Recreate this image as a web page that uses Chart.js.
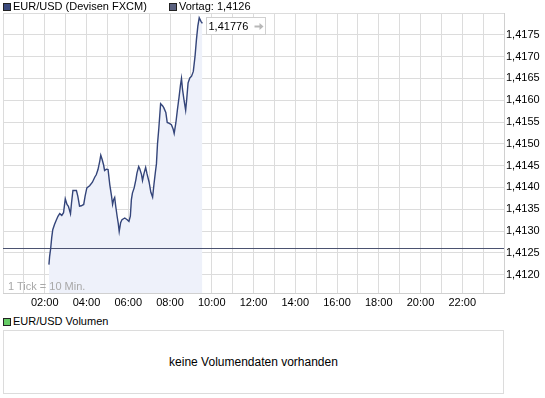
<!DOCTYPE html>
<html>
<head>
<meta charset="utf-8">
<script src="https://cdn.jsdelivr.net/npm/chart.js@4"></script>
<style>
  body { margin: 0; background: #fff; font-family: "Liberation Sans", Arial, sans-serif; font-size: 11px; color: #000; }
  #wrap { position: relative; width: 545px; height: 398px; overflow: hidden; }
  #grafico { position: absolute; left: 0; top: 0; }
  .txt { position: absolute; line-height: 13px; white-space: nowrap; }
  .sq { position: absolute; width: 6px; height: 6px; border: 1px solid #222; }
  #volbox { position: absolute; left: 3px; top: 330px; width: 499px; height: 62px; border: 1px solid #dcdcdc; }
  #volbox span { position: absolute; left: 0; right: 0; top: 24px; text-align: center; font-size: 12px; line-height: 14px; }
</style>
</head>
<body>
<div id="wrap">
  <canvas id="grafico" width="545" height="312"></canvas>

  <div class="sq" style="left:3px;top:3px;background:#3b4a7d"></div>
  <div class="txt" style="left:13px;top:0px">EUR/USD (Devisen FXCM)</div>
  <div class="sq" style="left:169px;top:3px;background:#5b6280"></div>
  <div class="txt" style="left:179px;top:0px">Vortag: 1,4126</div>

  <div class="txt" style="left:8px;top:280px;color:#a8a8a8">1 Tick = 10 Min.</div>

  <div class="sq" style="left:3px;top:318px;background:#66cc66"></div>
  <div class="txt" style="left:13px;top:315px">EUR/USD Volumen</div>
  <div id="volbox"><span>keine Volumendaten vorhanden</span></div>
</div>

<script>
// Zeit in Minuten ab 00:00
const zeiten = [132,134,137,140,143,148,153,158,163,169,
  174,179,184,188,194,197,201,211,215,220,
  225,232,236,241,249,257,264,268,273,278,
  281,285,289,292,297,302,307,312,315,318,
  321,324,328,331,334,338,342,350,357,362,
  366,369,372,377,382,385,390,393,398,401,
  405,410,414,420,425,430,434,438,441,444,
  448,453,459,462,468,472,478,484,489,492,
  497,501,506,510,513,516,520,525,528,532,
  537,542,547,552,556,560,564,569,573];

const kurse = [1.41223,1.41242,1.41260,1.41285,1.41303,1.41315,1.41325,1.41334,1.41340,1.41336,
  1.41342,1.41374,1.41361,1.41357,1.41340,1.41365,1.41393,1.41393,1.41380,1.41357,
  1.41358,1.41361,1.41380,1.41399,1.41404,1.41412,1.41424,1.41429,1.41441,1.41460,
  1.41474,1.41464,1.41452,1.41439,1.41442,1.41441,1.41406,1.41380,1.41361,1.41372,
  1.41377,1.41357,1.41334,1.41319,1.41299,1.41319,1.41326,1.41330,1.41326,1.41322,
  1.41334,1.41372,1.41387,1.41399,1.41418,1.41433,1.41448,1.41443,1.41430,1.41416,
  1.41431,1.41446,1.41431,1.41412,1.41389,1.41378,1.41408,1.41435,1.41454,1.41499,
  1.41537,1.41592,1.41587,1.41583,1.41572,1.41549,1.41547,1.41544,1.41534,1.41524,
  1.41549,1.41576,1.41607,1.41634,1.41650,1.41625,1.41602,1.41577,1.41602,1.41640,
  1.41651,1.41655,1.41666,1.41701,1.41739,1.41770,1.41789,1.41781,1.41776];

const vortag = 1.4126;
const stundenLabels = ["02:00","04:00","06:00","08:00","10:00","12:00","14:00","16:00","18:00","20:00","22:00"];

const punkte = zeiten.map((t, i) => ({ x: t, y: kurse[i] }));

// Box mit letztem Kurs
const letzterKurs = {
  id: 'letzterKurs',
  afterDatasetsDraw(chart) {
    const meta = chart.getDatasetMeta(0);
    const p = meta.data[meta.data.length - 1];
    const ctx = chart.ctx;
    const x = Math.round(p.x) + 4.5, y = Math.round(p.y) - 5.5;
    ctx.save();
    ctx.fillStyle = '#fff';
    ctx.strokeStyle = '#d0d0d0';
    ctx.lineWidth = 1;
    ctx.fillRect(x, y, 59, 17);
    ctx.strokeRect(x, y, 59, 17);
    ctx.font = '11px "Liberation Sans", Arial, sans-serif';
    ctx.textBaseline = 'middle';
    ctx.fillStyle = '#000';
    const txt = kurse[kurse.length - 1].toFixed(5).replace('.', ',');
    ctx.fillText(txt, x + 2, y + 9);
    // kleiner grauer Pfeil
    ctx.strokeStyle = '#b8b8b8';
    ctx.fillStyle = '#b8b8b8';
    ctx.lineWidth = 2;
    ctx.beginPath();
    ctx.moveTo(x + 48, y + 9);
    ctx.lineTo(x + 54, y + 9);
    ctx.stroke();
    ctx.beginPath();
    ctx.moveTo(x + 53, y + 5.5);
    ctx.lineTo(x + 57, y + 9);
    ctx.lineTo(x + 53, y + 12.5);
    ctx.closePath();
    ctx.fill();
    ctx.restore();
  }
};

const ctx = document.getElementById("grafico").getContext("2d");
new Chart(ctx, {
  type: 'line',
  data: {
    datasets: [
      {
        label: 'EUR/USD (Devisen FXCM)',
        data: punkte,
        borderColor: '#34457a',
        borderWidth: 1.4,
        backgroundColor: '#eef1fa',
        fill: 'start',
        tension: 0,
        pointRadius: 0,
        order: 0
      },
      {
        label: 'Vortag: 1,4126',
        data: [{ x: 0, y: vortag }, { x: 1440, y: vortag }],
        borderColor: '#4b5270',
        borderWidth: 1,
        fill: false,
        pointRadius: 0,
        order: 1
      }
    ]
  },
  options: {
    responsive: false,
    animation: false,
    devicePixelRatio: 1,
    layout: { padding: { top: 13, left: 3, right: 0, bottom: 0 } },
    plugins: {
      legend: { display: false },
      tooltip: { enabled: false },
      filler: { drawTime: 'beforeDatasetsDraw' }
    },
    scales: {
      x: {
        type: 'linear',
        min: 0,
        max: 1440,
        afterFit: s => { s.height = 19; },
        grid: { color: '#dcdcdc', drawTicks: false },
        border: { color: '#d0d0d0' },
        ticks: {
          stepSize: 60,
          autoSkip: false,
          minRotation: 0,
          maxRotation: 0,
          padding: 3,
          color: '#000',
          font: { family: '"Liberation Sans", Arial, sans-serif', size: 11 },
          callback: v => {
            const h = Math.round(v / 60);
            const s = String(h).padStart(2, '0') + ':00';
            return stundenLabels.includes(s) ? s : '';
          }
        }
      },
      y: {
        position: 'right',
        min: 1.41158,
        max: 1.418,
        afterFit: s => { s.width = 41; },
        grid: { color: '#dcdcdc', drawTicks: false },
        border: { color: '#d0d0d0' },
        ticks: {
          stepSize: 0.0005,
          includeBounds: false,
          padding: 2,
          color: '#000',
          font: { family: '"Liberation Sans", Arial, sans-serif', size: 11 },
          callback: v => v > 1.41776 ? '' : v.toFixed(4).replace('.', ',')
        }
      }
    }
  },
  plugins: [letzterKurs]
});
</script>
</body>
</html>
